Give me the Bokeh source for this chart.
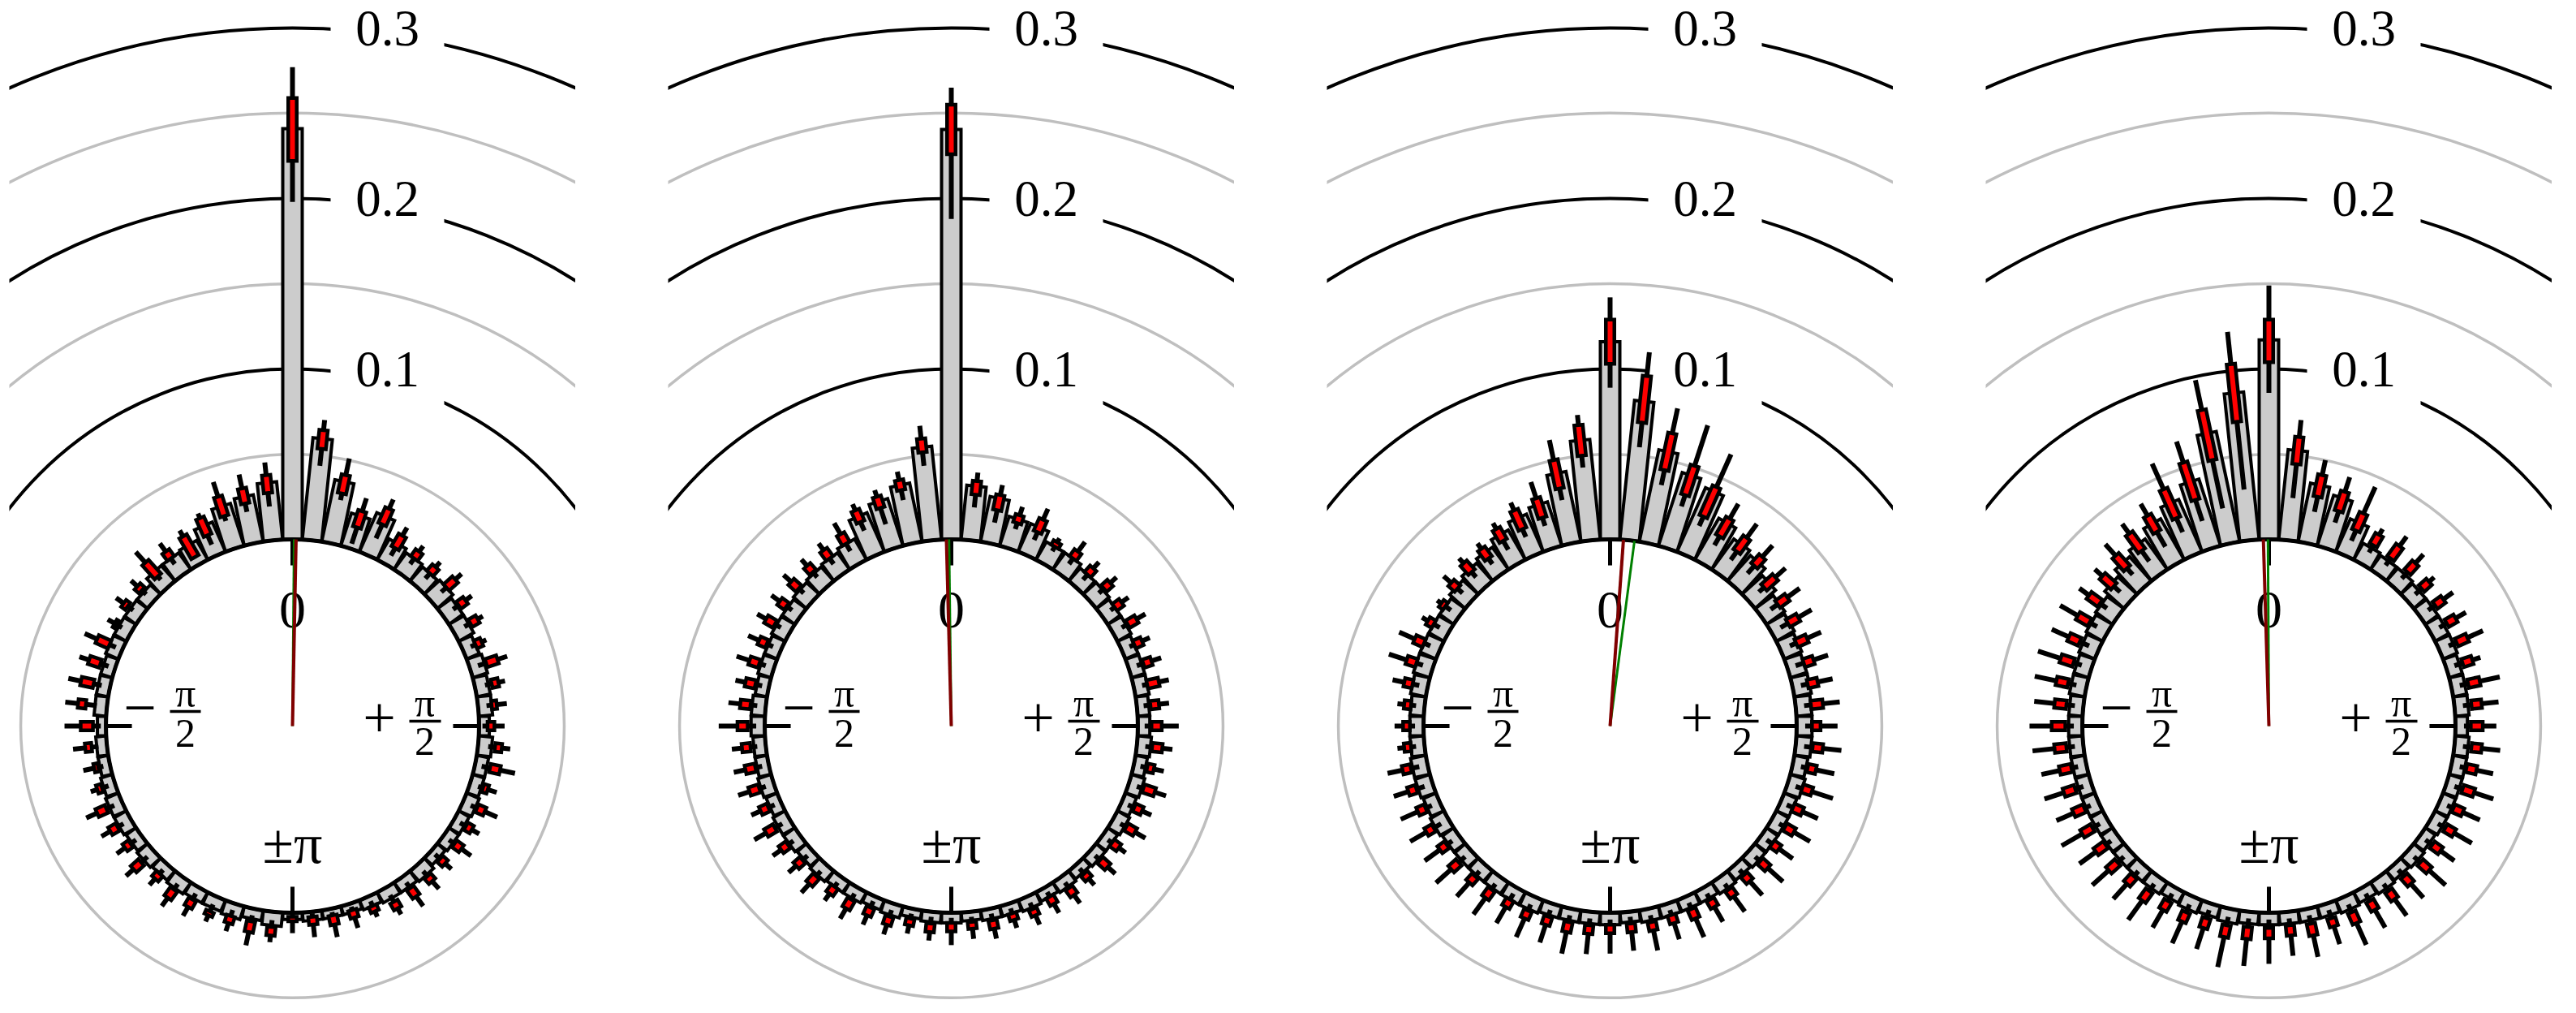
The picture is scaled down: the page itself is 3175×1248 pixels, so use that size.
import numpy as np
from bokeh.plotting import figure
from bokeh.models import Range1d, ColumnDataSource
from bokeh.layouts import row
from bokeh.embed import file_html
from bokeh.resources import INLINE
from bokeh.core.properties import value

# ---------------- data ----------------
bin_deg = list(range(0, 360, 6))          # bin centres, clockwise from top (0 .. 354 deg)
ring_levels = [0.1, 0.15, 0.2, 0.25, 0.3]
ring_colors = ["black", "#bfbfbf", "black", "#bfbfbf", "black"]
ring_widths = [4, 3.5, 4, 3.5, 4]
ring_label_levels = [0.1, 0.2, 0.3]
ring_labels = ["0.1", "0.2", "0.3"]
inner_ring = 0.05

p1_mean = [0.241, 0.060, 0.037, 0.020, 0.025, 0.014, 0.012, 0.011, 0.012, 0.010,
           0.010, 0.008, 0.009, 0.008, 0.008, 0.006, 0.008, 0.007, 0.007, 0.008,
           0.007, 0.007, 0.006, 0.008, 0.007, 0.007, 0.006, 0.005, 0.005, 0.005,
           0.004, 0.008, 0.006, 0.008, 0.007, 0.007, 0.008, 0.007, 0.008, 0.007,
           0.008, 0.008, 0.007, 0.006, 0.006, 0.005, 0.007, 0.007, 0.007, 0.008,
           0.008, 0.008, 0.008, 0.012, 0.012, 0.013, 0.019, 0.026, 0.028, 0.034]
p1_q1 = [0.222, 0.054, 0.030, 0.013, 0.020, 0.011, 0.012, 0.011, 0.012, 0.011,
         0.011, 0.008, 0.010, 0.010, 0.008, 0.005, 0.010, 0.009, 0.008, 0.009,
         0.008, 0.008, 0.007, 0.009, 0.008, 0.0095, 0.006, 0.004, 0.004, 0.003,
         0.0024, 0.009, 0.0076, 0.0076, 0.0095, 0.008, 0.009, 0.007, 0.010, 0.008,
         0.009, 0.010, 0.008, 0.007, 0.009, 0.0076, 0.0124, 0.0098, 0.009, 0.008,
         0.009, 0.010, 0.0095, 0.0086, 0.012, 0.005, 0.013, 0.020, 0.024, 0.028]
p1_q3 = [0.259, 0.065, 0.041, 0.023, 0.030, 0.0195, 0.017, 0.016, 0.019, 0.016,
         0.016, 0.012, 0.017, 0.014, 0.011, 0.009, 0.014, 0.015, 0.011, 0.014,
         0.012, 0.013, 0.011, 0.013, 0.014, 0.014, 0.0095, 0.0086, 0.0095, 0.0076,
         0.005, 0.014, 0.014, 0.012, 0.012, 0.013, 0.015, 0.011, 0.016, 0.012,
         0.014, 0.016, 0.011, 0.0095, 0.0128, 0.0148, 0.017, 0.0174, 0.016, 0.016,
         0.011, 0.013, 0.013, 0.0195, 0.017, 0.019, 0.024, 0.032, 0.033, 0.0385]
p1_lo = [0.198, 0.044, 0.026, 0.003, 0.011, 0.006, 0.008, 0.007, 0.008, 0.007,
         0.007, 0.005, 0.005, 0.006, 0.005, 0.002, 0.006, 0.004, 0.005, 0.005,
         0.004, 0.004, 0.003, 0.005, 0.004, 0.005, 0.003, 0.002, 0.002, 0.001,
         0.001, 0.005, 0.004, 0.004, 0.005, 0.004, 0.005, 0.004, 0.005, 0.004,
         0.005, 0.005, 0.004, 0.004, 0.005, 0.003, 0.006, 0.005, 0.004, 0.004,
         0.006, 0.006, 0.006, 0.006, 0.008, 0.004, 0.007, 0.017, 0.019, 0.020]
p1_hi = [0.277, 0.071, 0.051, 0.031, 0.036, 0.025, 0.021, 0.020, 0.024, 0.0205,
         0.0195, 0.015, 0.023, 0.018, 0.017, 0.015, 0.019, 0.024, 0.0165, 0.022,
         0.017, 0.020, 0.016, 0.019, 0.021, 0.018, 0.013, 0.015, 0.017, 0.015,
         0.012, 0.018, 0.022, 0.017, 0.016, 0.019, 0.021, 0.016, 0.022, 0.018,
         0.020, 0.023, 0.015, 0.016, 0.020, 0.0243, 0.0246, 0.025, 0.022, 0.024,
         0.0157, 0.0185, 0.018, 0.028, 0.023, 0.023, 0.027, 0.041, 0.0414, 0.046]

p2_mean = [0.2405, 0.032, 0.027, 0.018, 0.018, 0.012, 0.012, 0.010, 0.010, 0.009,
           0.009, 0.008, 0.008, 0.008, 0.007, 0.007, 0.008, 0.007, 0.008, 0.007,
           0.008, 0.007, 0.007, 0.006, 0.007, 0.006, 0.007, 0.006, 0.006, 0.005,
           0.006, 0.006, 0.005, 0.007, 0.006, 0.007, 0.007, 0.008, 0.007, 0.008,
           0.008, 0.007, 0.008, 0.007, 0.007, 0.008, 0.008, 0.007, 0.008, 0.008,
           0.009, 0.009, 0.010, 0.011, 0.012, 0.014, 0.025, 0.029, 0.035, 0.055]
p2_q1 = [0.226, 0.027, 0.020, 0.0157, 0.015, 0.012, 0.012, 0.010, 0.011, 0.009,
         0.010, 0.008, 0.009, 0.008, 0.008, 0.008, 0.009, 0.008, 0.009, 0.008,
         0.009, 0.007, 0.008, 0.007, 0.008, 0.006, 0.008, 0.006, 0.007, 0.006,
         0.006, 0.007, 0.006, 0.008, 0.007, 0.008, 0.007, 0.009, 0.008, 0.009,
         0.010, 0.008, 0.009, 0.008, 0.009, 0.010, 0.009, 0.008, 0.009, 0.009,
         0.010, 0.010, 0.011, 0.012, 0.012, 0.014, 0.0215, 0.025, 0.032, 0.052]
p2_q3 = [0.255, 0.035, 0.029, 0.0205, 0.023, 0.015, 0.017, 0.015, 0.016, 0.014,
         0.016, 0.013, 0.014, 0.015, 0.013, 0.014, 0.015, 0.012, 0.016, 0.013,
         0.015, 0.012, 0.014, 0.011, 0.013, 0.011, 0.012, 0.010, 0.012, 0.010,
         0.011, 0.012, 0.010, 0.013, 0.012, 0.014, 0.012, 0.015, 0.013, 0.014,
         0.016, 0.013, 0.015, 0.014, 0.014, 0.016, 0.015, 0.014, 0.015, 0.014,
         0.016, 0.015, 0.017, 0.017, 0.018, 0.0205, 0.029, 0.032, 0.038, 0.060]
p2_lo = [0.188, 0.0195, 0.0125, 0.012, 0.010, 0.009, 0.008, 0.006, 0.007, 0.006,
         0.006, 0.005, 0.005, 0.005, 0.004, 0.004, 0.005, 0.004, 0.005, 0.004,
         0.005, 0.004, 0.004, 0.003, 0.004, 0.003, 0.004, 0.003, 0.003, 0.003,
         0.003, 0.003, 0.003, 0.004, 0.003, 0.004, 0.004, 0.005, 0.004, 0.005,
         0.005, 0.004, 0.005, 0.004, 0.005, 0.005, 0.005, 0.004, 0.005, 0.005,
         0.006, 0.006, 0.007, 0.008, 0.008, 0.009, 0.016, 0.015, 0.026, 0.044]
p2_hi = [0.265, 0.040, 0.035, 0.0257, 0.030, 0.0176, 0.024, 0.020, 0.021, 0.019,
         0.022, 0.018, 0.020, 0.021, 0.019, 0.024, 0.021, 0.018, 0.023, 0.019,
         0.022, 0.017, 0.020, 0.016, 0.019, 0.017, 0.018, 0.015, 0.018, 0.016,
         0.019, 0.017, 0.015, 0.019, 0.018, 0.021, 0.017, 0.022, 0.019, 0.020,
         0.024, 0.019, 0.022, 0.021, 0.020, 0.027, 0.022, 0.020, 0.023, 0.021,
         0.022, 0.021, 0.023, 0.022, 0.023, 0.028, 0.033, 0.036, 0.043, 0.0676]

p3_mean = [0.116, 0.082, 0.055, 0.045, 0.041, 0.028, 0.022, 0.020, 0.016, 0.013,
           0.012, 0.011, 0.010, 0.010, 0.009, 0.009, 0.009, 0.008, 0.009, 0.008,
           0.008, 0.008, 0.008, 0.007, 0.008, 0.007, 0.007, 0.007, 0.007, 0.006,
           0.007, 0.007, 0.007, 0.007, 0.008, 0.008, 0.008, 0.008, 0.008, 0.008,
           0.009, 0.008, 0.009, 0.009, 0.008, 0.008, 0.008, 0.009, 0.010, 0.010,
           0.010, 0.010, 0.012, 0.014, 0.016, 0.020, 0.024, 0.027, 0.042, 0.059]
p3_q1 = [0.103, 0.0695, 0.044, 0.033, 0.025, 0.019, 0.017, 0.017, 0.012, 0.012,
         0.011, 0.010, 0.010, 0.009, 0.009, 0.009, 0.010, 0.009, 0.009, 0.008,
         0.009, 0.008, 0.009, 0.008, 0.009, 0.008, 0.008, 0.007, 0.008, 0.007,
         0.007, 0.008, 0.008, 0.008, 0.009, 0.008, 0.009, 0.009, 0.010, 0.009,
         0.010, 0.009, 0.010, 0.010, 0.008, 0.008, 0.008, 0.009, 0.010, 0.010,
         0.010, 0.010, 0.011, 0.012, 0.012, 0.016, 0.017, 0.019, 0.033, 0.050]
p3_q3 = [0.129, 0.097, 0.066, 0.051, 0.044, 0.031, 0.027, 0.024, 0.021, 0.019,
         0.018, 0.017, 0.016, 0.015, 0.016, 0.014, 0.016, 0.014, 0.015, 0.014,
         0.015, 0.013, 0.015, 0.013, 0.014, 0.013, 0.014, 0.012, 0.013, 0.012,
         0.012, 0.013, 0.014, 0.013, 0.014, 0.013, 0.015, 0.014, 0.016, 0.014,
         0.015, 0.014, 0.015, 0.015, 0.012, 0.012, 0.012, 0.014, 0.016, 0.016,
         0.014, 0.013, 0.016, 0.019, 0.019, 0.024, 0.029, 0.031, 0.050, 0.068]
p3_lo = [0.089, 0.055, 0.035, 0.026, 0.019, 0.013, 0.011, 0.011, 0.008, 0.007,
         0.006, 0.006, 0.005, 0.005, 0.005, 0.005, 0.005, 0.005, 0.005, 0.004,
         0.005, 0.004, 0.005, 0.004, 0.005, 0.004, 0.004, 0.004, 0.004, 0.003,
         0.004, 0.004, 0.004, 0.004, 0.005, 0.004, 0.005, 0.005, 0.005, 0.005,
         0.005, 0.005, 0.005, 0.005, 0.005, 0.005, 0.005, 0.005, 0.006, 0.006,
         0.006, 0.006, 0.007, 0.008, 0.008, 0.010, 0.012, 0.014, 0.026, 0.043]
p3_hi = [0.142, 0.111, 0.081, 0.076, 0.065, 0.041, 0.037, 0.033, 0.029, 0.028,
         0.027, 0.026, 0.025, 0.024, 0.026, 0.024, 0.027, 0.025, 0.028, 0.024,
         0.026, 0.023, 0.027, 0.024, 0.025, 0.023, 0.026, 0.022, 0.025, 0.023,
         0.024, 0.025, 0.027, 0.024, 0.026, 0.024, 0.027, 0.025, 0.028, 0.025,
         0.026, 0.025, 0.024, 0.024, 0.016, 0.017, 0.016, 0.021, 0.027, 0.026,
         0.018, 0.016, 0.022, 0.023, 0.023, 0.028, 0.034, 0.041, 0.062, 0.074]

p4_mean = [0.117, 0.053, 0.035, 0.031, 0.021, 0.011, 0.010, 0.010, 0.009, 0.009,
           0.009, 0.009, 0.008, 0.008, 0.008, 0.007, 0.008, 0.008, 0.008, 0.008,
           0.008, 0.007, 0.008, 0.007, 0.008, 0.007, 0.008, 0.007, 0.007, 0.007,
           0.007, 0.007, 0.008, 0.007, 0.008, 0.007, 0.008, 0.008, 0.008, 0.008,
           0.008, 0.008, 0.008, 0.008, 0.008, 0.008, 0.008, 0.009, 0.009, 0.010,
           0.011, 0.012, 0.015, 0.019, 0.022, 0.0275, 0.0335, 0.041, 0.066, 0.087]
p4_q1 = [0.104, 0.045, 0.028, 0.023, 0.016, 0.013, 0.012, 0.012, 0.011, 0.011,
         0.011, 0.011, 0.010, 0.010, 0.010, 0.009, 0.010, 0.009, 0.010, 0.009,
         0.010, 0.009, 0.010, 0.009, 0.010, 0.009, 0.010, 0.009, 0.009, 0.008,
         0.009, 0.009, 0.010, 0.009, 0.010, 0.009, 0.010, 0.009, 0.010, 0.009,
         0.010, 0.009, 0.010, 0.009, 0.010, 0.010, 0.010, 0.011, 0.011, 0.012,
         0.012, 0.013, 0.013, 0.015, 0.0176, 0.022, 0.024, 0.030, 0.050, 0.070]
p4_q3 = [0.129, 0.061, 0.041, 0.035, 0.027, 0.020, 0.021, 0.019, 0.017, 0.017,
         0.017, 0.018, 0.016, 0.017, 0.016, 0.016, 0.016, 0.015, 0.017, 0.015,
         0.016, 0.015, 0.017, 0.015, 0.016, 0.015, 0.017, 0.014, 0.016, 0.014,
         0.015, 0.016, 0.017, 0.015, 0.016, 0.015, 0.017, 0.015, 0.017, 0.016,
         0.017, 0.016, 0.017, 0.016, 0.017, 0.018, 0.017, 0.018, 0.019, 0.019,
         0.020, 0.021, 0.022, 0.025, 0.030, 0.033, 0.0425, 0.053, 0.080, 0.104]
p4_lo = [0.086, 0.025, 0.019, 0.016, 0.0095, 0.008, 0.007, 0.007, 0.006, 0.006,
         0.006, 0.006, 0.005, 0.005, 0.005, 0.005, 0.005, 0.005, 0.005, 0.005,
         0.005, 0.004, 0.005, 0.004, 0.005, 0.004, 0.005, 0.004, 0.004, 0.004,
         0.004, 0.004, 0.005, 0.004, 0.005, 0.004, 0.005, 0.005, 0.005, 0.005,
         0.005, 0.005, 0.005, 0.005, 0.005, 0.005, 0.005, 0.006, 0.006, 0.006,
         0.007, 0.008, 0.008, 0.010, 0.010, 0.012, 0.015, 0.017, 0.021, 0.030]
p4_hi = [0.149, 0.071, 0.050, 0.044, 0.044, 0.024, 0.028, 0.026, 0.021, 0.024,
         0.024, 0.028, 0.021, 0.029, 0.026, 0.024, 0.027, 0.025, 0.029, 0.026,
         0.028, 0.025, 0.030, 0.026, 0.028, 0.027, 0.031, 0.025, 0.029, 0.026,
         0.030, 0.032, 0.035, 0.028, 0.030, 0.027, 0.031, 0.027, 0.030, 0.028,
         0.031, 0.027, 0.029, 0.027, 0.030, 0.031, 0.029, 0.031, 0.033, 0.030,
         0.032, 0.028, 0.028, 0.034, 0.037, 0.041, 0.059, 0.066, 0.098, 0.123]

# mean-direction lines (degrees, clockwise from top)
red_dir = [1.1, -1.5, 4.1, -1.7]
green_dir = [0.5, -0.7, 7.5, -0.3]

# ---------------- styling / geometry ----------------
PX = 1.0 / 2100.0          # one screen pixel in data units
R0 = 0.1095                # radius of the zero level
SERIF = "Liberation Serif"
BAR_FILL = "#cccccc"
GRAY = "#bfbfbf"


def make_panel(mean, q1, q3, lo, hi, rdir, gdir, left_border):
    th = np.deg2rad(np.array(bin_deg, dtype=float))
    ux, uy = np.sin(th), np.cos(th)
    mean, q1, q3, lo, hi = (np.array(a, dtype=float) for a in (mean, q1, q3, lo, hi))

    p = figure(width=698 + left_border, height=1232,
               x_range=Range1d(-349 * PX, 349 * PX),
               y_range=Range1d(-338 * PX, 894 * PX),
               output_backend="svg", toolbar_location=None, min_border=0)
    p.min_border_left = left_border
    p.xaxis.visible = False
    p.yaxis.visible = False
    p.xgrid.visible = False
    p.ygrid.visible = False
    p.outline_line_color = None
    p.background_fill_color = "white"

    # grid rings
    p.circle(x=[0], y=[0], radius=[R0 + inner_ring], fill_color=None,
             line_color=GRAY, line_width=3.5)
    p.arc(x=[0] * len(ring_levels), y=[0] * len(ring_levels),
          radius=[R0 + v for v in ring_levels], start_angle=0, end_angle=np.pi,
          line_color=ring_colors, line_width=ring_widths)

    # ring labels with white background
    lx = [117 * PX] * len(ring_label_levels)
    ly = [R0 + v for v in ring_label_levels]
    p.rect(x=lx, y=ly, width=140 * PX, height=95 * PX, fill_color="white",
           line_color=None)
    p.text(x=lx, y=ly, text=ring_labels, text_align="center",
           text_baseline="middle", text_font=value(SERIF),
           text_font_size="63px", text_color="black")

    # bars
    src = ColumnDataSource(dict(
        bx=(R0 + mean / 2) * ux, by=(R0 + mean / 2) * uy, bh=mean,
        ang=-th,
        wx0=(R0 + lo) * ux, wy0=(R0 + lo) * uy,
        wx1=(R0 + hi) * ux, wy1=(R0 + hi) * uy,
        qx=(R0 + (q1 + q3) / 2) * ux, qy=(R0 + (q1 + q3) / 2) * uy, qh=q3 - q1,
    ))
    p.rect(x="bx", y="by", width=24 * PX, height="bh", angle="ang", source=src,
           fill_color=BAR_FILL, line_color="black", line_width=4,
           line_join="miter")
    p.segment(x0="wx0", y0="wy0", x1="wx1", y1="wy1", source=src,
              line_color="black", line_width=6, line_cap="butt")
    p.rect(x="qx", y="qy", width=10.5 * PX, height="qh", angle="ang", source=src,
           fill_color="#ff0000", line_color="black", line_width=4.5,
           line_join="miter")

    # zero circle
    p.circle(x=[0], y=[0], radius=[R0], fill_color=None, line_color="black",
             line_width=5)

    # ticks at 0, +pi/2, pi, -pi/2
    ta = np.deg2rad(np.array([0, 90, 180, 270], dtype=float))
    p.segment(x0=R0 * np.sin(ta), y0=R0 * np.cos(ta),
              x1=(R0 - 32 * PX) * np.sin(ta), y1=(R0 - 32 * PX) * np.cos(ta),
              line_color="black", line_width=5, line_cap="butt")

    # angle labels
    tf = value(SERIF)
    p.text(x=[0], y=[143 * PX], text=["0"],
           text_align="center", text_baseline="middle", text_font=tf,
           text_font_size="66px", text_color="black")
    p.text(x=[0], y=[-145 * PX], text=["±π"],
           text_align="center", text_baseline="middle", text_font=tf,
           text_font_size="70px", text_color="black")
    p.text(x=[-188 * PX, 107 * PX], y=[22 * PX, 10 * PX], text=["−", "+"],
           text_align="center", text_baseline="middle", text_font=tf,
           text_font_size="72px", text_color="black")
    p.text(x=[-132 * PX, 163 * PX, -132 * PX, 163 * PX],
           y=[41 * PX, 29 * PX, -9 * PX, -19 * PX],
           text=["π", "π", "2", "2"], text_align="center",
           text_baseline="middle", text_font=tf, text_font_size="50px",
           text_color="black")
    p.segment(x0=[-151 * PX, 144 * PX], y0=[18 * PX, 6 * PX],
              x1=[-113 * PX, 183 * PX], y1=[18 * PX, 6 * PX],
              line_color="black", line_width=3.5, line_cap="butt")

    # mean direction lines
    g = np.deg2rad(gdir)
    r = np.deg2rad(rdir)
    p.segment(x0=[0], y0=[0], x1=[R0 * np.sin(g)], y1=[R0 * np.cos(g)],
              line_color="#008000", line_width=3)
    p.segment(x0=[0], y0=[0], x1=[R0 * np.sin(r)], y1=[R0 * np.cos(r)],
              line_color="#800000", line_width=4)
    return p


panels = [
    make_panel(p1_mean, p1_q1, p1_q3, p1_lo, p1_hi, red_dir[0], green_dir[0], 11),
    make_panel(p2_mean, p2_q1, p2_q3, p2_lo, p2_hi, red_dir[1], green_dir[1], 0),
    make_panel(p3_mean, p3_q1, p3_q3, p3_lo, p3_hi, red_dir[2], green_dir[2], 0),
    make_panel(p4_mean, p4_q1, p4_q3, p4_lo, p4_hi, red_dir[3], green_dir[3], 0),
]

layout = row(*panels, spacing=114)
open("out.html", "w").write(file_html(layout, INLINE))
